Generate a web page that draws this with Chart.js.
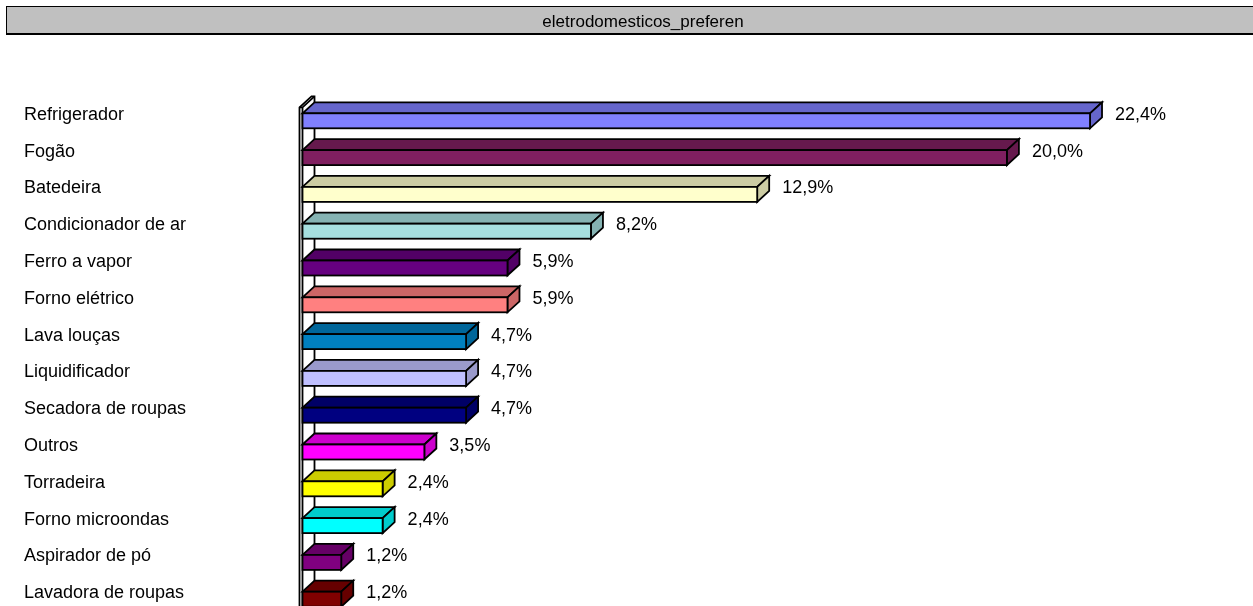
<!DOCTYPE html>
<html>
<head>
<meta charset="utf-8">
<script src="https://cdn.jsdelivr.net/npm/chart.js@4"></script>
<style>
html,body{margin:0;padding:0;background:#fff;overflow:hidden;}
#wrap{width:1253px;height:606px;overflow:hidden;position:relative;}
canvas{display:block;}
</style>
</head>
<body>
<div id="wrap"><canvas id="c" width="1253" height="640"></canvas></div>
<script>
const headerText = 'eletrodomesticos_preferen';
const categories = ['Refrigerador','Fogão','Batedeira','Condicionador de ar','Ferro a vapor','Forno elétrico','Lava louças','Liquidificador','Secadora de roupas','Outros','Torradeira','Forno microondas','Aspirador de pó','Lavadora de roupas'];
const values = [22.35, 20.00, 12.94, 8.24, 5.88, 5.88, 4.71, 4.71, 4.71, 3.53, 2.35, 2.35, 1.18, 1.18];
const colors = ['#8080FF','#801F60','#FFFFCC','#A6E0E0','#660080','#FF8080','#0080C0','#C0C0FF','#000080','#FF00FF','#FFFF00','#00FFFF','#800080','#800000'];

const DX = 12, DY = 11, WALL = 3;
const FONT = '18px "Liberation Sans", Arial, sans-serif';

function shade(hex, f){
  const n = parseInt(hex.slice(1),16);
  const r = Math.round(((n>>16)&255)*f), g = Math.round(((n>>8)&255)*f), b = Math.round((n&255)*f);
  return 'rgb('+r+','+g+','+b+')';
}
function fmt(v){ return v.toFixed(1).replace('.', ',') + '%'; }

const bars3d = {
  id: 'bars3d',
  beforeDraw(chart){
    const ctx = chart.ctx;
    ctx.save();
    ctx.fillStyle = '#fff';
    ctx.fillRect(0,0,chart.width,chart.height);
    // header bar
    ctx.fillStyle = '#C0C0C0';
    ctx.fillRect(6.5, 6.5, 1260, 27);
    ctx.strokeStyle = '#000';
    ctx.lineWidth = 1;
    ctx.strokeRect(6.5, 6.5, 1260, 27);
    ctx.lineWidth = 2;
    ctx.beginPath(); ctx.moveTo(6, 34); ctx.lineTo(1260, 34); ctx.stroke();
    ctx.fillStyle = '#000';
    ctx.font = '17px "Liberation Sans", Arial, sans-serif';
    ctx.textAlign = 'center';
    ctx.textBaseline = 'alphabetic';
    ctx.fillText(headerText, 643, 27);
    ctx.restore();
  },
  afterDatasetsDraw(chart){
    const ctx = chart.ctx;
    const meta = chart.getDatasetMeta(0);
    const xs = chart.scales.x;
    const x0 = xs.getPixelForValue(0);
    const first = meta.data[0].getProps(['y','height'], true);
    const wallTop = first.y - first.height/2 - 6;
    const H = chart.height;
    ctx.save();
    ctx.lineWidth = 1.8;
    ctx.strokeStyle = '#000';
    ctx.lineJoin = 'miter';
    // wall slab
    ctx.fillStyle = '#fff';
    ctx.beginPath();
    ctx.moveTo(x0, wallTop);
    ctx.lineTo(x0 + DX, wallTop - DY);
    ctx.lineTo(x0 + WALL + DX, wallTop - DY);
    ctx.lineTo(x0 + WALL + DX, H);
    ctx.lineTo(x0, H);
    ctx.closePath();
    ctx.fill();
    ctx.stroke();
    ctx.beginPath();
    ctx.moveTo(x0 + WALL, H); ctx.lineTo(x0 + WALL, wallTop); ctx.lineTo(x0, wallTop);
    ctx.moveTo(x0 + WALL, wallTop); ctx.lineTo(x0 + WALL + DX, wallTop - DY);
    ctx.stroke();

    meta.data.forEach((bar, i) => {
      const p = bar.getProps(['x','y','base','height'], true);
      const l = p.base + WALL, r = p.x;
      const t = p.y - p.height/2, b = p.y + p.height/2;
      const c = colors[i];
      // top face
      ctx.fillStyle = shade(c, 0.8);
      ctx.beginPath();
      ctx.moveTo(l, t); ctx.lineTo(l + DX, t - DY); ctx.lineTo(r + DX, t - DY); ctx.lineTo(r, t); ctx.closePath();
      ctx.fill(); ctx.stroke();
      // side face
      ctx.beginPath();
      ctx.moveTo(r, t); ctx.lineTo(r + DX, t - DY); ctx.lineTo(r + DX, b - DY); ctx.lineTo(r, b); ctx.closePath();
      ctx.fill(); ctx.stroke();
      // front face
      ctx.fillStyle = c;
      ctx.fillRect(l, t, r - l, b - t);
      ctx.strokeRect(l, t, r - l, b - t);
      // labels
      ctx.fillStyle = '#000';
      ctx.font = FONT;
      ctx.textBaseline = 'alphabetic';
      ctx.textAlign = 'left';
      ctx.fillText(categories[i], 24, p.y - 1);
      ctx.fillText(fmt(values[i]), r + DX + 13, p.y - 1);
    });
    ctx.restore();
  }
};

new Chart(document.getElementById('c'), {
  type: 'bar',
  data: {
    labels: categories,
    datasets: [{
      data: values,
      backgroundColor: 'rgba(0,0,0,0)',
      borderWidth: 0,
      barThickness: 15
    }]
  },
  options: {
    indexAxis: 'y',
    responsive: false,
    animation: false,
    devicePixelRatio: 1,
    layout: { padding: { left: 299.5, right: 69.25, top: 102.4, bottom: 22.4 } },
    plugins: { legend: { display: false }, tooltip: { enabled: false }, title: { display: false } },
    scales: {
      x: { display: false, min: 0, max: 25 },
      y: { display: false, offset: true }
    }
  },
  plugins: [bars3d]
});
</script>
</body>
</html>
